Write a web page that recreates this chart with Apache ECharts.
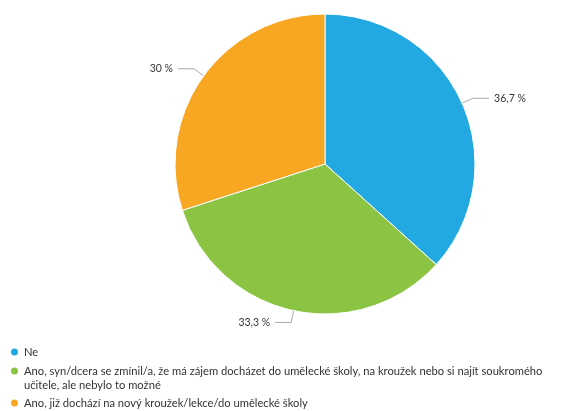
<!DOCTYPE html>
<html><head><meta charset="utf-8">
<script src="https://cdn.jsdelivr.net/npm/echarts@6/dist/echarts.min.js"></script>
<style>html,body{margin:0;padding:0;background:#fff}#c{width:576px;height:411px}</style>
</head><body><div id="c"></div>
<script>
const categories = ["Ne", "Ano, syn/dcera se zmínil/a, že má zájem docházet do umělecké školy, na kroužek nebo si najít soukromého učitele, ale nebylo to možné", "Ano, již dochází na nový kroužek/lekce/do umělecké školy"];
const values = [36.7, 33.3, 30];
const labels = ["36,7 %", "33,3 %", "30 %"];
const colors = ["#23a9e1", "#8bc443", "#f8a723"];
const legendTops = [345, 350, 396];
const chart = echarts.init(document.getElementById('c'));
const legends = categories.map((c, i) => ({
  orient: 'vertical', left: 9, top: legendTops[i], padding: 0, itemWidth: 9, itemHeight: 9,
  icon: 'circle', selectedMode: false,
  formatter: n => i === 1 ? " \n" + n.replace("soukromého učitele", "soukromého\nučitele") : n,
  textStyle: {fontSize: 11.2, color: '#333', lineHeight: 14, fontFamily: "Lato"},
  data: [c]
}));
chart.setOption({
  animation: false,
  textStyle: {fontFamily: "Lato"},
  legend: legends,
  series: [{
    type: 'pie', center: [325, 164], radius: 150, startAngle: 90,
    itemStyle: {borderColor: '#fff', borderWidth: 1},
    label: {fontSize: 10.5, color: '#333', formatter: p => labels[p.dataIndex], fontFamily: "Lato"},
    labelLine: {length: 12, length2: 16, lineStyle: {color: '#aaa'}},
    data: categories.map((c, i) => ({name: c, value: values[i], itemStyle: {color: colors[i]}}))
  }]
});
</script></body></html>
